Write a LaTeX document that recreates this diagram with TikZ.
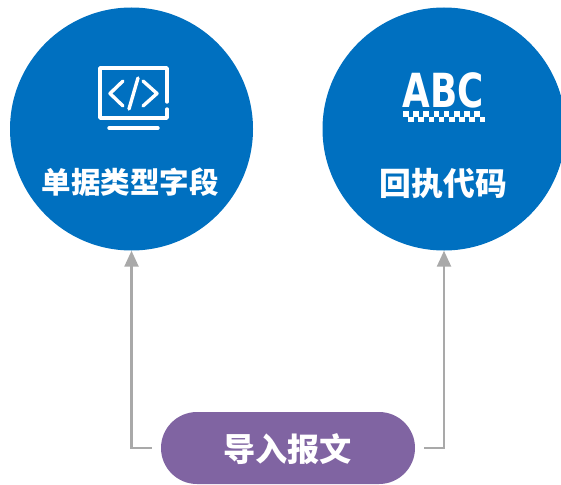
\documentclass[tikz,border=0pt]{standalone}
\usepackage{fontspec}
\setmainfont{DejaVu Sans}
\newfontfamily\cjk{Noto Sans CJK SC}
\usetikzlibrary{arrows.meta,shapes.misc}
\definecolor{bluefill}{HTML}{0070C0}
\definecolor{purplefill}{HTML}{8064A2}
\definecolor{linegray}{HTML}{A9A9A9}
\tikzset{
  bigcircle/.style={circle,fill=bluefill,minimum size=243pt,inner sep=0pt},
  pill/.style={rounded rectangle,fill=purplefill,minimum width=254pt,minimum height=72pt,inner sep=0pt},
  cap/.style={text=white,font=\cjk\bfseries\fontsize{#1}{#1}\selectfont,inner sep=0pt},
  conn/.style={draw=linegray,line width=2.4pt,shorten <=9pt,-{Triangle[length=16pt,width=14pt]}},
  icon/.style={draw=white,line width=3.4pt,line cap=round,line join=round}
}
\begin{document}
\begin{tikzpicture}[x=1pt,y=-1pt]
\useasboundingbox (0,0) rectangle (561,484);
\clip (0,0) rectangle (561,484);
\node[bigcircle] (left) at (131.5,129) {};
\node[bigcircle] (right) at (444,129) {};
\node[pill] (report) at (288,448) {};
\node[cap=29.5] (t1) at (130,182) {单据类型字段};
\node[cap=31.8] (t2) at (443.5,184) {回执代码};
\node[cap=32.2] (t3) at (287.5,449) {导入报文};
\draw[conn] (report.west) -| (left.south);
\draw[conn] (report.east) -| (right.south);
% code monitor icon
\draw[icon] (167,102) -- (167,68) -- (100,68) -- (100,118) -- (167,118) -- (167,109);
\draw[icon] (109,128) -- (158,128);
\draw[icon] (123,81) -- (110,93.5) -- (123,106);
\draw[icon] (138,78) -- (129,109);
\draw[icon] (143,81) -- (157,93.5) -- (143,106);
% ABC icon
\node[text=white,font=\bfseries\fontsize{47}{47}\selectfont,inner sep=0pt,xscale=0.76] (abc) at (443.5,90) {ABC};
\foreach \i in {0,...,7}{
  \fill[white] (403+\i*10.2,111) rectangle ++(5.6,5.6);
  \fill[white] (408.1+\i*10.2-5.1+5.1,116.6) rectangle ++(5.6,5.4);
}
\end{tikzpicture}
\end{document}
